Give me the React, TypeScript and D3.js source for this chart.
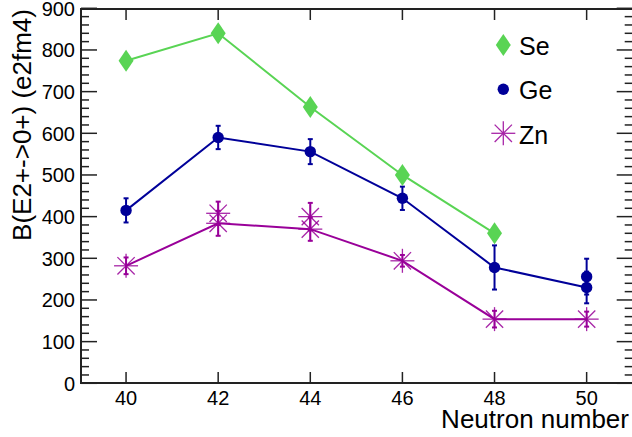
import React from "react";
import * as d3 from "d3";

const seN = [40, 42, 44, 46, 48];
const seValues = [774, 840, 663, 500, 360];

const geN = [40, 42, 44, 46, 48, 50];
const geValues = [415, 590, 556, 444, 278, 230];
const geErrors = [29, 28, 30, 28, 53, 38];
const geExtraN = [50];
const geExtraValues = [256];
const geExtraErrors = [43];

const znN = [40, 42, 44, 46, 48, 50];
const znValues = [282, 384, 370, 294, 154, 154];
const znErrors = [20, 30, 28, 14, 20, 18];
const znExtraN = [42, 44];
const znExtraValues = [408, 400];
const znExtraErrors = [28, 33];

const xTicks = [40, 42, 44, 46, 48, 50];
const yTicks = [0, 100, 200, 300, 400, 500, 600, 700, 800, 900];
const legendNames = ["Se", "Ge", "Zn"];

const W = 632;
const H = 437;
const FONT = "'Liberation Sans', Arial, Helvetica, sans-serif";
const SE_COLOR = "#59d454";
const GE_COLOR = "#000099";
const ZN_COLOR = "#990099";

const x = d3.scaleLinear().domain([39, 51]).range([80, 632.7]);
const y = d3.scaleLinear().domain([0, 900]).range([383.3, 8.3]);

function Diamond({ cx, cy, color }: { cx: number; cy: number; color: string }) {
  const p = d3.path();
  p.moveTo(cx, cy - 11);
  p.lineTo(cx + 7.5, cy);
  p.lineTo(cx, cy + 11);
  p.lineTo(cx - 7.5, cy);
  p.closePath();
  return <path d={p.toString()} fill={color} />;
}

function Star({ cx, cy, color }: { cx: number; cy: number; color: string }) {
  const r = 12;
  const d = r * 0.72;
  return (
    <g stroke={color} strokeWidth={1.3} opacity={0.85}>
      <line x1={cx - r} y1={cy} x2={cx + r} y2={cy} />
      <line x1={cx} y1={cy - r} x2={cx} y2={cy + r} />
      <line x1={cx - d} y1={cy - d} x2={cx + d} y2={cy + d} />
      <line x1={cx - d} y1={cy + d} x2={cx + d} y2={cy - d} />
    </g>
  );
}

function ErrBar({ n, v, e, color }: { n: number; v: number; e: number; color: string }) {
  const cx = x(n);
  return (
    <g stroke={color} strokeWidth={2}>
      <line x1={cx} y1={y(v + e)} x2={cx} y2={y(v - e)} />
      <line x1={cx - 2.5} y1={y(v + e)} x2={cx + 2.5} y2={y(v + e)} />
      <line x1={cx - 2.5} y1={y(v - e)} x2={cx + 2.5} y2={y(v - e)} />
    </g>
  );
}

export default function App() {
  const line = d3
    .line<[number, number]>()
    .x((d) => x(d[0]))
    .y((d) => y(d[1]));

  const minorY = d3.range(0, 901, 20).filter((v) => v % 100 !== 0);

  return (
    <svg
      width={W}
      height={H}
      style={{ position: "absolute", left: 0, top: 0, background: "#fff" }}
      fontFamily={FONT}
    >
      {/* frame */}
      <g stroke="#222" strokeWidth={2} fill="none">
        <line x1={80} y1={9} x2={W} y2={9} />
        <line x1={80} y1={383} x2={W} y2={383} />
        <line x1={81} y1={9} x2={81} y2={384} />
      </g>
      {/* y ticks */}
      <g stroke="#222" strokeWidth={1.5}>
        {yTicks.map((t) => (
          <g key={"yt" + t}>
            <line x1={81} x2={97} y1={y(t)} y2={y(t)} />
            <line x1={616.7} x2={632.7} y1={y(t)} y2={y(t)} />
          </g>
        ))}
        {minorY.map((t) => (
          <g key={"ym" + t}>
            <line x1={81} x2={89} y1={y(t)} y2={y(t)} />
            <line x1={624.7} x2={632.7} y1={y(t)} y2={y(t)} />
          </g>
        ))}
        {xTicks.map((t) => (
          <g key={"xt" + t}>
            <line x1={x(t)} x2={x(t)} y1={383} y2={372} />
            <line x1={x(t)} x2={x(t)} y1={9} y2={20} />
          </g>
        ))}
      </g>
      {/* tick labels */}
      <g fontSize={20} fill="#000">
        {yTicks.map((t) => (
          <text key={"yl" + t} x={75} y={y(t)} dy="0.36em" textAnchor="end">
            {t}
          </text>
        ))}
        {xTicks.map((t) => (
          <text key={"xl" + t} x={x(t)} y={405} textAnchor="middle">
            {t}
          </text>
        ))}
      </g>
      {/* axis titles */}
      <text x={629} y={428} fontSize={26} textAnchor="end">
        Neutron number
      </text>
      <text
        transform="translate(31,9) rotate(-90)"
        fontSize={26}
        textAnchor="end"
      >
        B(E2+-&gt;0+) (e2fm4)
      </text>

      {/* Zn */}
      <path
        d={line(znN.map((n, i) => [n, znValues[i]]) as [number, number][]) || ""}
        fill="none"
        stroke={ZN_COLOR}
        strokeWidth={2}
      />
      {znN.map((n, i) => (
        <ErrBar key={"ze" + i} n={n} v={znValues[i]} e={znErrors[i]} color={ZN_COLOR} />
      ))}
      {znExtraN.map((n, i) => (
        <ErrBar key={"zxe" + i} n={n} v={znExtraValues[i]} e={znExtraErrors[i]} color={ZN_COLOR} />
      ))}
      {znN.map((n, i) => (
        <Star key={"zs" + i} cx={x(n)} cy={y(znValues[i])} color={ZN_COLOR} />
      ))}
      {znExtraN.map((n, i) => (
        <Star key={"zxs" + i} cx={x(n)} cy={y(znExtraValues[i])} color={ZN_COLOR} />
      ))}

      {/* Ge */}
      <path
        d={line(geN.map((n, i) => [n, geValues[i]]) as [number, number][]) || ""}
        fill="none"
        stroke={GE_COLOR}
        strokeWidth={2}
      />
      {geN.map((n, i) => (
        <ErrBar key={"ge" + i} n={n} v={geValues[i]} e={geErrors[i]} color={GE_COLOR} />
      ))}
      {geExtraN.map((n, i) => (
        <ErrBar key={"gxe" + i} n={n} v={geExtraValues[i]} e={geExtraErrors[i]} color={GE_COLOR} />
      ))}
      {geN.map((n, i) => (
        <circle key={"gc" + i} cx={x(n)} cy={y(geValues[i])} r={5.7} fill={GE_COLOR} />
      ))}
      {geExtraN.map((n, i) => (
        <circle key={"gxc" + i} cx={x(n)} cy={y(geExtraValues[i])} r={5.7} fill={GE_COLOR} />
      ))}

      {/* Se */}
      <path
        d={line(seN.map((n, i) => [n, seValues[i]]) as [number, number][]) || ""}
        fill="none"
        stroke={SE_COLOR}
        strokeWidth={2}
      />
      {seN.map((n, i) => (
        <Diamond key={"sd" + i} cx={x(n)} cy={y(seValues[i])} color={SE_COLOR} />
      ))}

      {/* legend */}
      <g fontSize={25}>
        <Diamond cx={503.3} cy={45} color={SE_COLOR} />
        <circle cx={503.3} cy={89.3} r={5.7} fill={GE_COLOR} />
        <Star cx={503.3} cy={133.3} color={ZN_COLOR} />
        {legendNames.map((name, i) => (
          <text key={name} x={519} y={55 + i * 44.3} fill="#000">
            {name}
          </text>
        ))}
      </g>
    </svg>
  );
}
